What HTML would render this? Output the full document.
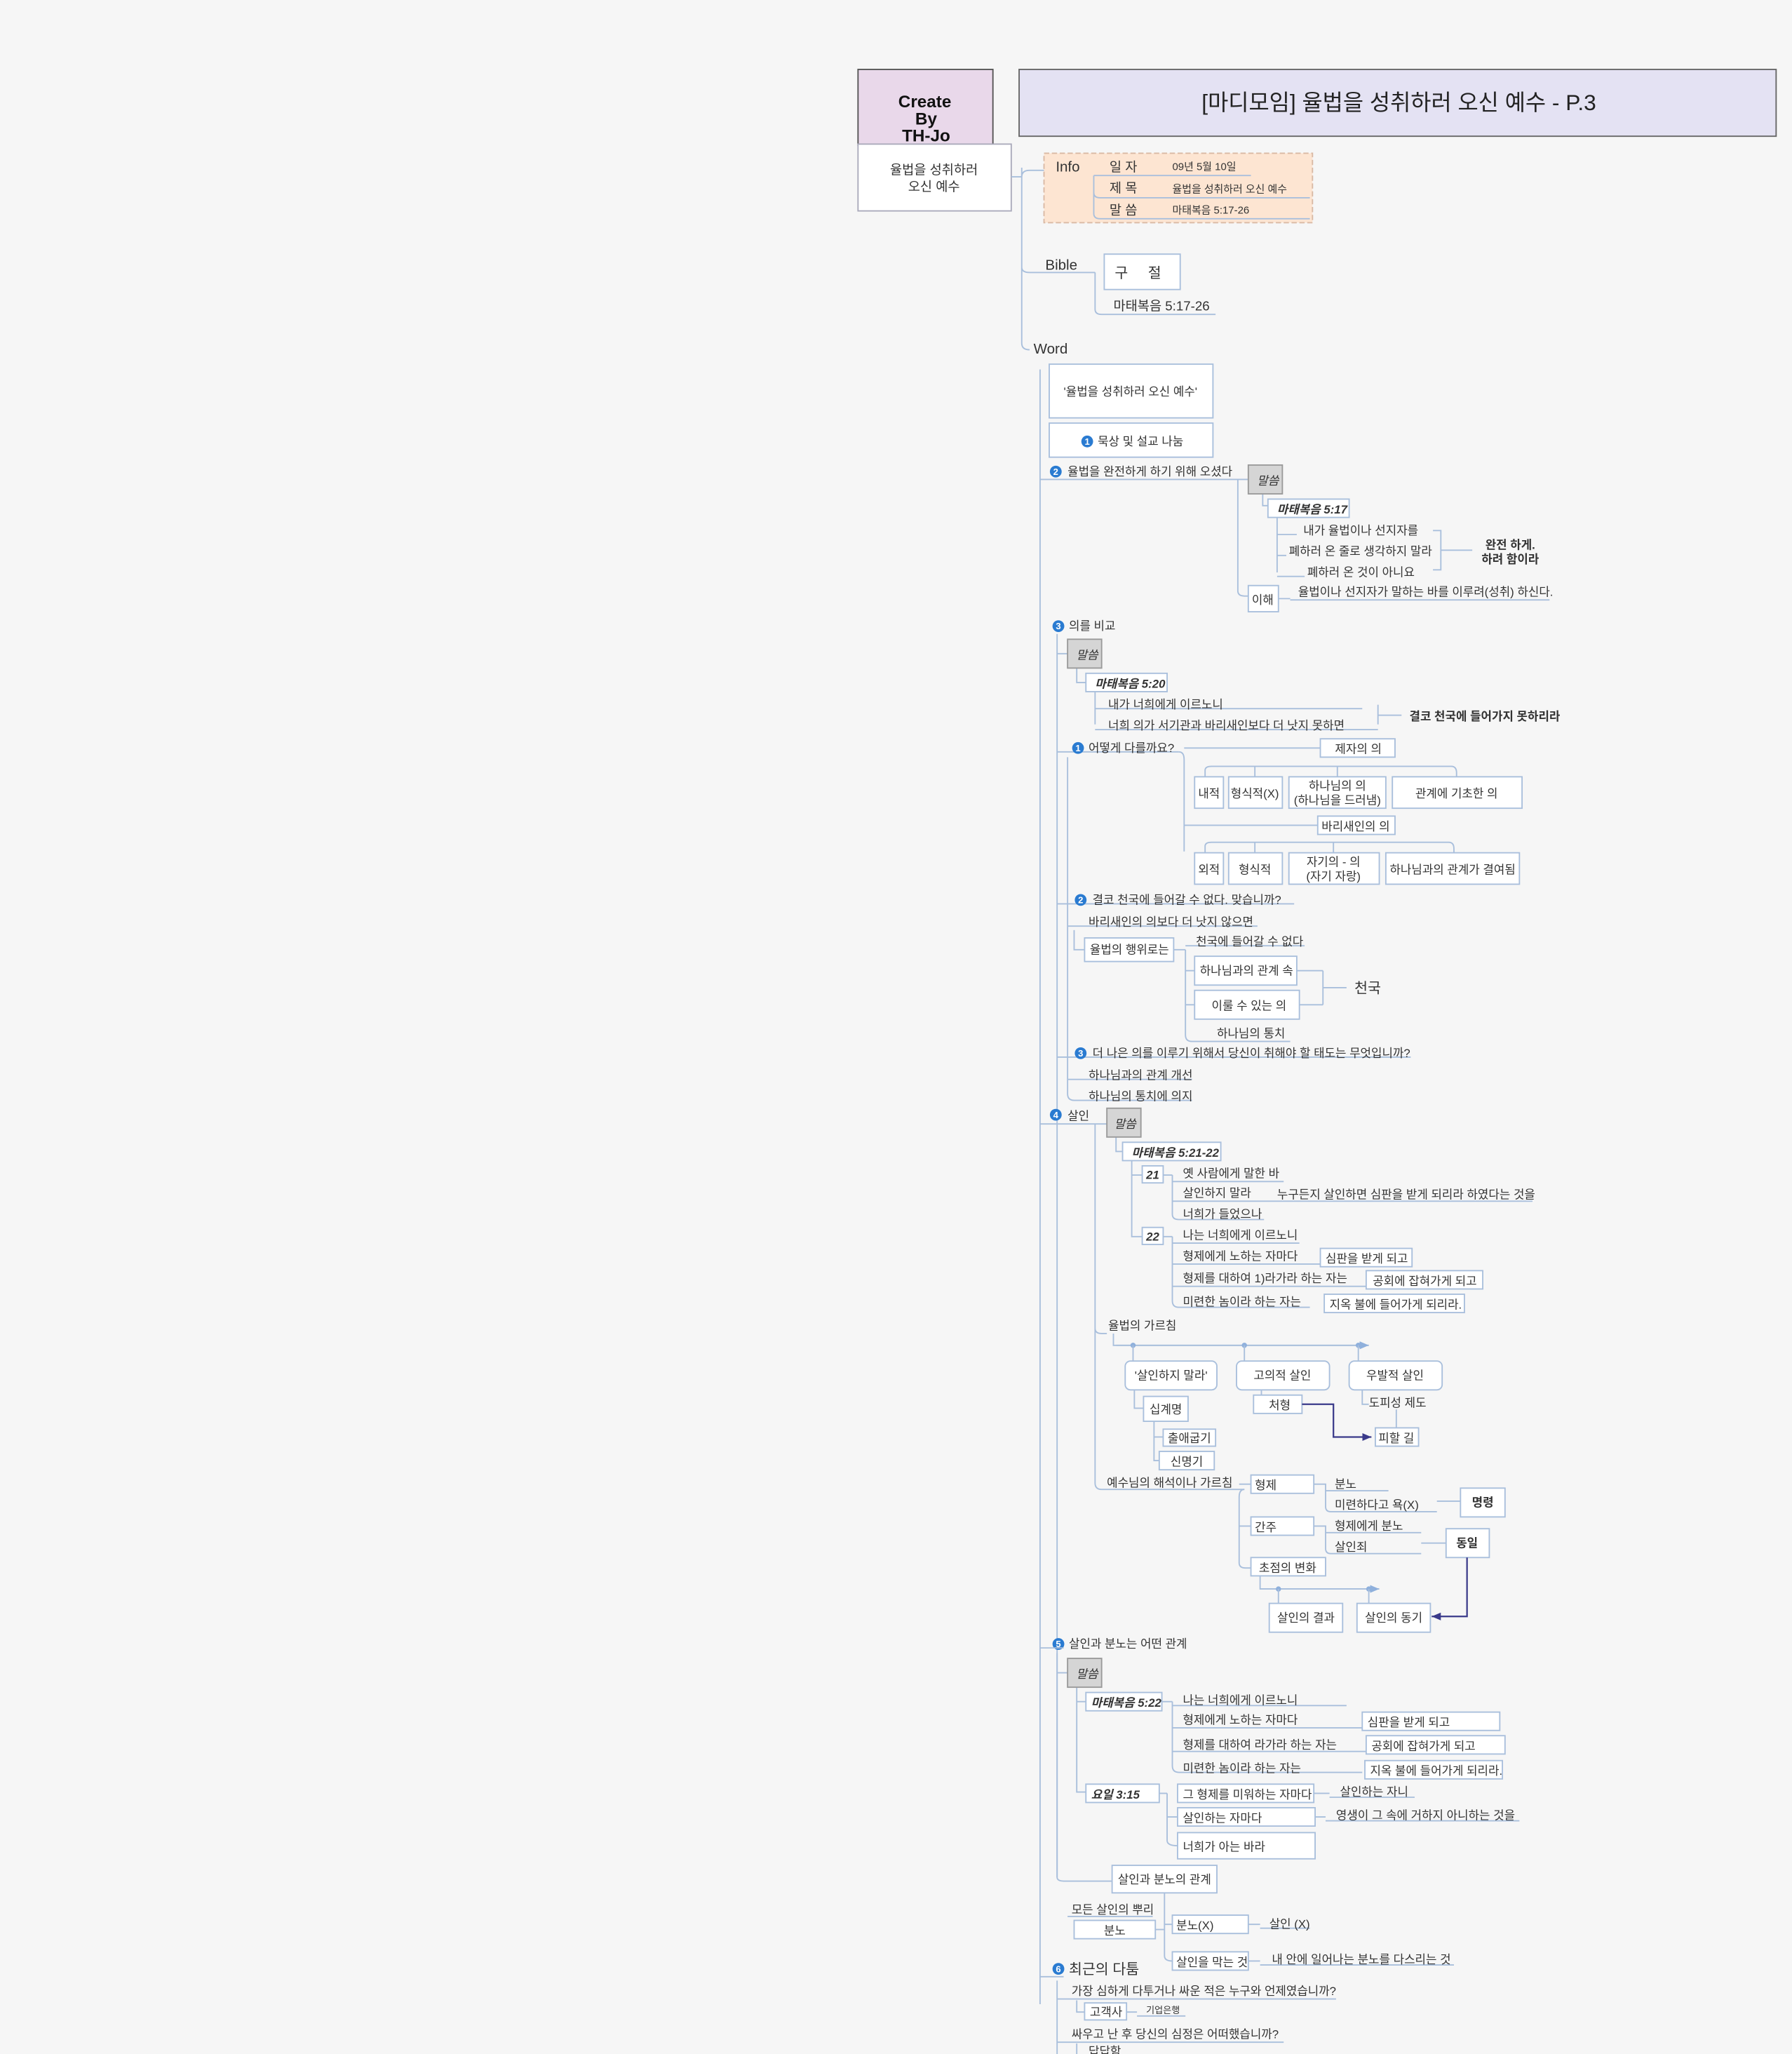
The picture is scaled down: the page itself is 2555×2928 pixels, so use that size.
<!DOCTYPE html>
<html><head><meta charset="utf-8"><style>
html,body{margin:0;padding:0;background:#f6f6f6;}
svg{display:block}
text{font-family:"Liberation Sans","Noto Sans CJK KR",sans-serif;font-size:9px;fill:#333}
.l{stroke:#a9bfdc;stroke-width:1;fill:none}
.b{fill:#fff;stroke:#a9bfdc;stroke-width:1}
.g{fill:#d5d5d5;stroke:#9a9a9a;stroke-width:1}
.i{font-style:italic;font-weight:bold}
.c{text-anchor:middle}
.d{stroke:#3a3a8a;stroke-width:1.2;fill:none}
.n{fill:#2a7bd1}
.nt{fill:#fff;font-size:7px;font-weight:bold;text-anchor:middle}
</style></head><body>
<svg width="2555" height="2928" viewBox="0 0 1368 1568" xmlns="http://www.w3.org/2000/svg">
<defs><marker id="a" markerWidth="8" markerHeight="8" refX="7" refY="4" orient="auto" markerUnits="userSpaceOnUse"><path d="M0,1 L7,4 L0,7z" fill="#3a3a8a"/></marker>
<marker id="a2" markerWidth="8" markerHeight="8" refX="7" refY="4" orient="auto" markerUnits="userSpaceOnUse"><path d="M0,1 L7,4 L0,7z" fill="#8fb0dc"/></marker></defs>
<rect width="1368" height="1568" fill="#f6f6f6"/>
<!-- header -->
<rect x="655" y="53" width="103" height="58" fill="#e9d8ea" stroke="#555"/>
<text x="706" y="82" class="c" style="font-size:13px;font-weight:bold;fill:#111">Create</text>
<text x="707" y="95" class="c" style="font-size:13px;font-weight:bold;fill:#111">By</text>
<text x="707" y="108" class="c" style="font-size:13px;font-weight:bold;fill:#111">TH-Jo</text>
<rect x="778" y="53" width="578" height="51" fill="#e4e2f3" stroke="#666"/>
<text x="1068" y="84" class="c" style="font-size:17px;fill:#222">[마디모임] 율법을 성취하러 오신 예수 - P.3</text>
<rect x="655" y="110" width="117" height="51" fill="#fff" stroke="#aab"/>
<text x="713" y="133" class="c" style="font-size:10px">율법을 성취하러</text>
<text x="713" y="146" class="c" style="font-size:10px">오신 예수</text>
<!-- trunk -->
<path class="l" d="M772,135 H780 M780,128 V262 Q780,267 786,267 M780,135 Q780,130 786,130 H806 M780,204 Q780,208 786,208 H836"/>
<!-- info -->
<rect x="797" y="117" width="205" height="53" fill="#fde5d2" stroke="#d9b9a4" stroke-dasharray="4,2"/>
<text x="806" y="131" style="font-size:11px">Info</text>
<path class="l" d="M835,134 V163 Q835,167 840,167 H1000 M835,134 H955 M835,147 Q835,151 840,151 H1000"/>
<text x="847" y="131" style="font-size:10px">일 자</text><text x="847" y="147" style="font-size:10px">제 목</text><text x="847" y="164" style="font-size:10px">말 씀</text>
<text x="895" y="130" style="font-size:8px">09년 5월 10일</text><text x="895" y="147" style="font-size:8px">율법을 성취하러 오신 예수</text><text x="895" y="163" style="font-size:8px">마태복음 5:17-26</text>
<!-- bible -->
<text x="798" y="206" style="font-size:11px">Bible</text>
<rect x="843" y="194" width="58" height="27" class="b" stroke="#a9bfdc"/>
<text x="851" y="212" style="font-size:11px">구&#160;&#160;&#160;&#160;&#160;절</text>
<path class="l" d="M836,208 V236 Q836,240 841,240 H928"/>
<text x="850" y="237" style="font-size:10px">마태복음 5:17-26</text>
<text x="789" y="270" style="font-size:11px">Word</text>
<path class="l" d="M794,282 V1530"/>
<rect x="801" y="278" width="125" height="41" class="b"/>
<text x="863" y="302" class="c">'율법을 성취하러 오신 예수'</text>
<rect x="801" y="323" width="125" height="26" class="b"/>
<circle cx="830" cy="337" r="4.5" class="n"/><text x="830" y="339.5" class="nt">1</text>
<text x="838" y="340">묵상 및 설교 나눔</text>
<!-- 2 -->
<circle cx="806" cy="360" r="4.5" class="n"/><text x="806" y="362.5" class="nt">2</text>
<text x="815" y="363">율법을 완전하게 하기 위해 오셨다</text>
<path class="l" d="M794,366 H953 M945,366 V451 Q945,455 950,455 H953 M964,377 V386 H968 M975,395 V437 M975,408 H990 M975,424 H982 M975,440 H996 M1094,405 H1100 V435 H1094 M1100,420 H1124 M976,457 H985 M985,458 H1183"/>
<rect x="953" y="355" width="26" height="22" class="g"/><text x="968" y="370" class="c" style="font-style:italic">말씀</text>
<rect x="968" y="381" width="62" height="14" class="b"/><text x="975" y="392" class="i">마태복음 5:17</text>
<text x="995" y="408">내가 율법이나 선지자를</text><text x="984" y="424">폐하러 온 줄로 생각하지 말라</text><text x="998" y="440">폐하러 온 것이 아니요</text>
<text x="1153" y="419" class="c" style="font-weight:bold">완전 하게.</text><text x="1153" y="430" class="c" style="font-weight:bold">하려 함이라</text>
<rect x="953" y="447" width="23" height="20" class="b"/><text x="964" y="461" class="c">이해</text>
<text x="991" y="455">율법이나 선지자가 말하는 바를 이루려(성취) 하신다.</text>
<!-- 3 -->
<circle cx="808" cy="478" r="4.5" class="n"/><text x="808" y="480.5" class="nt">3</text>
<text x="816" y="481">의를 비교</text>
<path class="l" d="M807,484 V1433 Q807,1436 812,1436 H849 M807,499 H815 M822,510 V521 H829 M836,528 V553 M836,541 H1040 M836,557 H1052 M1052,538 V553 M1052,546 H1070 M807,574 H900 M807,690 H988 M807,807 H1077 M815,578 V835 Q815,840 820,840 H910 M815,824 H910 M815,707 H960"/>
<rect x="815" y="488" width="26" height="22" class="g"/><text x="830" y="503" class="c" style="font-style:italic">말씀</text>
<rect x="829" y="514" width="62" height="14" class="b"/><text x="836" y="525" class="i">마태복음 5:20</text>
<text x="846" y="541">내가 너희에게 이르노니</text><text x="846" y="557">너희 의가 서기관과 바리새인보다 더 낫지 못하면</text>
<text x="1076" y="550" style="font-weight:bold">결코 천국에 들어가지 못하리라</text>
<circle cx="823" cy="571" r="4.5" class="n"/><text x="823" y="573.5" class="nt">1</text>
<text x="831" y="574">어떻게 다를까요?</text>
<path class="l" d="M900,574 Q904,574 904,580 V650 M904,571 H1008 M920,593 V588 Q920,585 925,585 H1108 Q1112,585 1112,590 V593 M958,585 V593 M1021,585 V593 M904,630 H1006 M920,651 V646 Q920,643 925,643 H1106 Q1110,643 1110,648 V651 M958,643 V651 M1018,643 V651"/>
<rect x="1008" y="564" width="57" height="14" class="b"/><text x="1037" y="575" class="c">제자의 의</text>
<rect x="912" y="593" width="22" height="24" class="b"/><text x="923" y="609" class="c">내적</text>
<rect x="938" y="593" width="41" height="24" class="b"/><text x="958" y="609" class="c">형식적(X)</text>
<rect x="984" y="593" width="74" height="24" class="b"/><text x="1021" y="603" class="c">하나님의 의</text><text x="1021" y="614" class="c">(하나님을 드러냄)</text>
<rect x="1063" y="593" width="99" height="24" class="b"/><text x="1112" y="609" class="c">관계에 기초한 의</text>
<rect x="1006" y="623" width="59" height="14" class="b"/><text x="1035" y="634" class="c">바리새인의 의</text>
<rect x="912" y="651" width="22" height="24" class="b"/><text x="923" y="667" class="c">외적</text>
<rect x="938" y="651" width="41" height="24" class="b"/><text x="958" y="667" class="c">형식적</text>
<rect x="984" y="651" width="69" height="24" class="b"/><text x="1018" y="661" class="c">자기의 - 의</text><text x="1018" y="672" class="c">(자기 자랑)</text>
<rect x="1058" y="651" width="102" height="24" class="b"/><text x="1109" y="667" class="c">하나님과의 관계가 결여됨</text>
<circle cx="825" cy="687" r="4.5" class="n"/><text x="825" y="689.5" class="nt">2</text>
<text x="834" y="690">결코 천국에 들어갈 수 없다. 맞습니까?</text>
<text x="831" y="707">바리새인의 의보다 더 낫지 않으면</text>
<rect x="828" y="716" width="68" height="18" class="b"/><text x="832" y="728">율법의 행위로는</text>
<path class="l" d="M820,710 V725 H828 M896,725 H905 M905,722 H996 M905,725 V790 Q905,795 910,795 H985 M905,741 H912 M905,767 H912 M990,741 H1010 M992,767 H1010 M1010,741 V767 M1010,754 H1028"/>
<text x="913" y="722">천국에 들어갈 수 없다</text>
<rect x="912" y="730" width="78" height="22" class="b"/><text x="916" y="744">하나님과의 관계 속</text>
<rect x="912" y="756" width="80" height="22" class="b"/><text x="925" y="771">이룰 수 있는 의</text>
<text x="1034" y="758" style="font-size:11px">천국</text>
<text x="929" y="792">하나님의 통치</text>
<circle cx="825" cy="804" r="4.5" class="n"/><text x="825" y="806.5" class="nt">3</text>
<text x="834" y="807">더 나은 의를 이루기 위해서 당신이 취해야 할 태도는 무엇입니까?</text>
<text x="831" y="824">하나님과의 관계 개선</text><text x="831" y="840">하나님의 통치에 의지</text>
<!-- 4 -->
<circle cx="806" cy="851" r="4.5" class="n"/><text x="806" y="853.5" class="nt">4</text>
<text x="815" y="855">살인</text>
<path class="l" d="M794,858 H845 M836,858 V1132 Q836,1137 841,1137 H950 M836,1014 Q836,1018 841,1018 H845 M852,868 V879 H857 M864,886 V944 H872 M864,897 H872 M888,897 H895 M895,897 V927 Q895,931 900,931 H965 M895,902 H980 M895,917 H1170 M888,944 H895 M895,944 V993 Q895,998 900,998 H1000 M895,949 H992 M895,965 H1008 M895,982 H1043 M850,1018 V1027 H1045"/>
<rect x="845" y="846" width="26" height="22" class="g"/><text x="859" y="861" class="c" style="font-style:italic">말씀</text>
<rect x="857" y="872" width="75" height="14" class="b"/><text x="864" y="883" class="i">마태복음 5:21-22</text>
<rect x="872" y="890" width="16" height="13" class="b"/><text x="880" y="900" class="c i">21</text>
<text x="903" y="899">옛 사람에게 말한 바</text><text x="903" y="914">살인하지 말라</text><text x="975" y="915">누구든지 살인하면 심판을 받게 되리라 하였다는 것을</text><text x="903" y="930">너희가 들었으나</text>
<rect x="872" y="937" width="16" height="13" class="b"/><text x="880" y="947" class="c i">22</text>
<text x="903" y="946">나는 너희에게 이르노니</text><text x="903" y="962">형제에게 노하는 자마다</text><text x="903" y="979">형제를 대하여 1)라가라 하는 자는</text><text x="903" y="997">미련한 놈이라 하는 자는</text>
<rect x="1008" y="953" width="70" height="14" class="b"/><text x="1012" y="964">심판을 받게 되고</text>
<rect x="1043" y="970" width="89" height="14" class="b"/><text x="1048" y="981">공회에 잡혀가게 되고</text>
<rect x="1011" y="988" width="107" height="14" class="b"/><text x="1015" y="999">지옥 불에 들어가게 되리라.</text>
<text x="846" y="1015">율법의 가르침</text>
<path class="l" d="M852,1027 H1045" marker-end="url(#a2)"/>
<circle cx="865" cy="1027" r="2" fill="#8fb0dc"/><circle cx="950" cy="1027" r="2" fill="#8fb0dc"/><circle cx="1037" cy="1027" r="2" fill="#8fb0dc"/>
<path class="l" d="M865,1027 V1039 M950,1027 V1039 M1037,1027 V1039 M866,1061 V1075 H873 M881,1085 V1115 H885 M881,1097 H888 M963,1061 V1072 H957 M1040,1061 V1072 H1045"/>
<rect x="859" y="1039" width="70" height="22" rx="4" class="b"/><text x="894" y="1053" class="c">'살인하지 말라'</text>
<rect x="944" y="1039" width="71" height="22" rx="4" class="b"/><text x="979" y="1053" class="c">고의적 살인</text>
<rect x="1030" y="1039" width="71" height="22" rx="4" class="b"/><text x="1065" y="1053" class="c">우발적 살인</text>
<rect x="873" y="1066" width="34" height="19" class="b"/><text x="890" y="1079" class="c">십계명</text>
<rect x="888" y="1091" width="40" height="13" class="b"/><text x="908" y="1101" class="c">출애굽기</text>
<rect x="885" y="1108" width="42" height="14" class="b"/><text x="906" y="1119" class="c">신명기</text>
<rect x="957" y="1065" width="37" height="14" class="b"/><text x="977" y="1076" class="c">처형</text>
<text x="1045" y="1074">도피성 제도</text>
<rect x="1050" y="1090" width="33" height="14" class="b"/><text x="1066" y="1101" class="c">피할 길</text>
<path class="d" d="M994,1072 H1018 V1097 H1047" marker-end="url(#a)"/>
<path class="l" d="M1066,1076 V1090"/>
<text x="845" y="1135">예수님의 해석이나 가르침</text>
<path class="l" d="M950,1137 Q946,1137 946,1143 V1193 Q946,1197 951,1197 H955 M946,1133 H955 M946,1165 H955 M1003,1133 H1012 V1150 Q1012,1154 1016,1154 H1097 M1012,1138 H1060 M1097,1146 H1115 M1003,1165 H1012 V1182 Q1012,1186 1016,1186 H1085 M1012,1170 H1085 M1085,1178 H1104 M962,1203 V1213 H1053"/>
<rect x="955" y="1126" width="48" height="14" class="b"/><text x="958" y="1137">형제</text>
<text x="1019" y="1136">분노</text><text x="1019" y="1152">미련하다고 욕(X)</text>
<rect x="1115" y="1136" width="34" height="22" class="b" stroke="#888"/><text x="1132" y="1150" class="c" style="font-weight:bold">명령</text>
<rect x="955" y="1158" width="48" height="14" class="b"/><text x="958" y="1169">간주</text>
<text x="1019" y="1168">형제에게 분노</text><text x="1019" y="1184">살인죄</text>
<rect x="1104" y="1167" width="33" height="22" class="b" stroke="#888"/><text x="1120" y="1181" class="c" style="font-weight:bold">동일</text>
<rect x="955" y="1189" width="57" height="14" class="b"/><text x="983" y="1200" class="c">초점의 변화</text>
<path class="l" d="M962,1213 H1053" marker-end="url(#a2)"/>
<circle cx="976" cy="1213" r="2" fill="#8fb0dc"/><circle cx="1045" cy="1213" r="2" fill="#8fb0dc"/>
<path class="l" d="M976,1213 V1224 M1045,1213 V1224"/>
<rect x="969" y="1224" width="56" height="22" class="b"/><text x="997" y="1238" class="c">살인의 결과</text>
<rect x="1036" y="1224" width="56" height="22" class="b"/><text x="1064" y="1238" class="c">살인의 동기</text>
<path class="d" d="M1120,1189 V1234 H1093" marker-end="url(#a)"/>
<!-- 5 -->
<circle cx="808" cy="1255" r="4.5" class="n"/><text x="808" y="1257.5" class="nt">5</text>
<text x="816" y="1258">살인과 분노는 어떤 관계</text>
<path class="l" d="M794,1258 H812 M807,1262 V1433 M807,1277 H815 M822,1288 V1368 H829 M822,1299 H829 M887,1299 H895 M895,1299 V1348 Q895,1353 900,1353 H1040 M895,1302 H1028 M895,1319 H1040 M895,1337 H1043 M885,1369 H891 M891,1369 V1405 Q891,1409 899,1409 M891,1387 H899 M1003,1369 H1015 M1015,1372 H1080 M1004,1387 H1012 M1012,1390 H1160"/>
<rect x="815" y="1266" width="26" height="22" class="g"/><text x="830" y="1281" class="c" style="font-style:italic">말씀</text>
<rect x="829" y="1292" width="58" height="14" class="b"/><text x="833" y="1303" class="i">마태복음 5:22</text>
<text x="903" y="1301">나는 너희에게 이르노니</text><text x="903" y="1316">형제에게 노하는 자마다</text><text x="903" y="1335">형제를 대하여 라가라 하는 자는</text><text x="903" y="1353">미련한 놈이라 하는 자는</text>
<rect x="1040" y="1307" width="105" height="14" class="b"/><text x="1044" y="1318">심판을 받게 되고</text>
<rect x="1043" y="1325" width="106" height="14" class="b"/><text x="1047" y="1336">공회에 잡혀가게 되고</text>
<rect x="1042" y="1344" width="105" height="14" class="b"/><text x="1046" y="1355">지옥 불에 들어가게 되리라.</text>
<rect x="829" y="1362" width="56" height="14" class="b"/><text x="833" y="1373" class="i">요일 3:15</text>
<rect x="899" y="1362" width="104" height="14" class="b"/><text x="903" y="1373">그 형제를 미워하는 자마다</text>
<text x="1023" y="1371">살인하는 자니</text>
<rect x="899" y="1380" width="105" height="14" class="b"/><text x="903" y="1391">살인하는 자마다</text>
<text x="1020" y="1389">영생이 그 속에 거하지 아니하는 것을</text>
<rect x="899" y="1399" width="105" height="20" class="b"/><text x="903" y="1413">너희가 아는 바라</text>
<rect x="849" y="1424" width="80" height="21" class="b"/><text x="889" y="1438" class="c">살인과 분노의 관계</text>
<path class="l" d="M889,1445 V1493 Q889,1497 895,1497 M882,1473 H889 M889,1469 H895 M953,1469 H962 M953,1497 H962 M962,1472 H1000 M962,1500 H1110 M815,1463 H880"/>
<text x="818" y="1461">모든 살인의 뿌리</text>
<rect x="820" y="1466" width="62" height="14" class="b"/><text x="851" y="1477" class="c">분노</text>
<rect x="895" y="1462" width="58" height="14" class="b"/><text x="898" y="1473">분노(X)</text>
<text x="969" y="1472">살인 (X)</text>
<rect x="895" y="1490" width="58" height="14" class="b"/><text x="898" y="1501">살인을 막는 것</text>
<text x="971" y="1499">내 안에 일어나는 분노를 다스리는 것</text>
<!-- 6 -->
<circle cx="808" cy="1503" r="4.5" class="n"/><text x="808" y="1505.5" class="nt">6</text>
<text x="816" y="1507" style="font-size:11px">최근의 다툼</text>
<path class="l" d="M794,1509 H812 M807,1512 V1568 M807,1526 H1020 M822,1527 V1536 H828 M860,1536 H868 M868,1539 H905 M807,1559 H980 M822,1560 V1568"/>
<text x="818" y="1523">가장 심하게 다투거나 싸운 적은 누구와 언제였습니까?</text>
<rect x="828" y="1529" width="32" height="13" class="b"/><text x="832" y="1539">고객사</text>
<text x="875" y="1537" style="font-size:7px">기업은행</text>
<text x="818" y="1556">싸우고 난 후 당신의 심정은 어떠했습니까?</text>
<text x="831" y="1569">답답함</text>
</svg>
</body></html>
